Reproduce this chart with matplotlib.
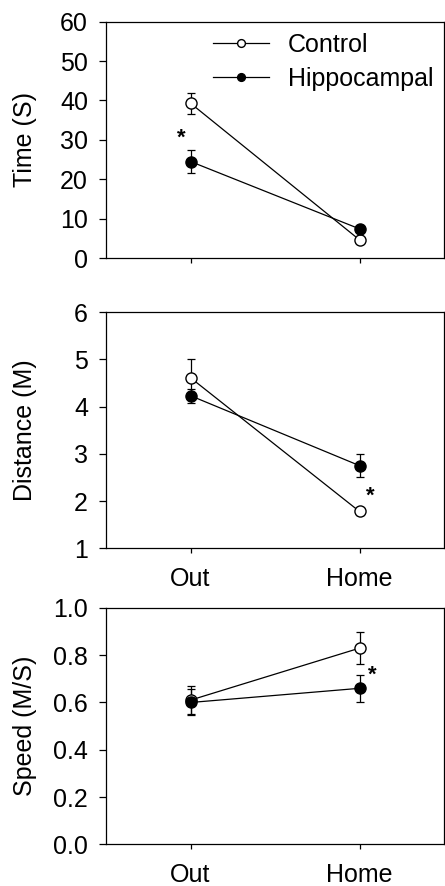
import matplotlib
matplotlib.use("Agg")
import matplotlib.pyplot as plt
from matplotlib.ticker import FormatStrFormatter

plt.rcParams["font.family"] = ["Liberation Sans", "DejaVu Sans"]

conditions = ["Out", "Home"]

time_control = [39.3, 4.6]
time_control_err = [2.7, 0.8]
time_hippo = [24.5, 7.4]
time_hippo_err = [2.8, 0.8]

dist_control = [4.61, 1.78]
dist_control_err = [0.39, 0.07]
dist_hippo = [4.23, 2.75]
dist_hippo_err = [0.15, 0.24]

speed_control = [0.61, 0.83]
speed_control_err = [0.06, 0.068]
speed_hippo = [0.60, 0.66]
speed_hippo_err = [0.055, 0.056]

# significance stars: (condition index, x nudge, y value)
star_time = (0, -0.053, 30.4)
star_dist = (1, 0.063, 2.1)
star_speed = (1, 0.074, 0.715)

FS = 18


def draw_panel(ax, control, control_err, hippo, hippo_err, ylabel, ylim, yticks, star, labels=True):
    x = list(range(len(conditions)))
    for y, err in [(control, control_err), (hippo, hippo_err)]:
        ax.errorbar(x, y, yerr=err, fmt="none", ecolor="black", elinewidth=0.9,
                    capsize=3, capthick=0.9, zorder=2)
    ax.plot(x, control, "-", color="black", lw=0.9, marker="o", ms=8,
            mfc="white", mec="black", mew=1.0, label="Control", zorder=3)
    ax.plot(x, hippo, "-", color="black", lw=0.9, marker="o", ms=8,
            mfc="black", mec="black", mew=1.0, label="Hippocampal", zorder=3)

    idx, dx, sy = star
    ax.text(x[idx] + dx, sy, "*", fontsize=16, fontweight="bold",
            ha="center", va="center")

    ax.set_xlim(-0.5, 1.5)
    ax.set_ylim(*ylim)
    ax.set_yticks(yticks)
    ax.set_xticks(x)
    ax.set_xticklabels(conditions if labels else ["", ""])
    ax.set_ylabel(ylabel, fontsize=FS)
    ax.yaxis.set_label_coords(-0.205, 0.5)
    ax.tick_params(axis="y", direction="out", length=5, width=0.9, pad=8, labelsize=FS)
    ax.tick_params(axis="x", direction="out", length=3.5, width=0.9, pad=10, labelsize=FS)
    for s in ax.spines.values():
        s.set_linewidth(0.9)


fig = plt.figure(figsize=(4.45, 8.86), dpi=100)
left, width, height = 0.2382, 0.7596, 0.2667
ax1 = fig.add_axes([left, 0.7088, width, height])
ax2 = fig.add_axes([left, 0.3811, width, height])
ax3 = fig.add_axes([left, 0.0471, width, height])

draw_panel(ax1, time_control, time_control_err, time_hippo, time_hippo_err,
           "Time (S)", (0, 60), range(0, 61, 10), star_time, labels=False)
draw_panel(ax2, dist_control, dist_control_err, dist_hippo, dist_hippo_err,
           "Distance (M)", (1, 6), range(1, 7), star_dist)
draw_panel(ax3, speed_control, speed_control_err, speed_hippo, speed_hippo_err,
           "Speed (M/S)", (0, 1.0), [0, 0.2, 0.4, 0.6, 0.8, 1.0], star_speed)
ax3.yaxis.set_major_formatter(FormatStrFormatter("%.1f"))

ax1.legend(loc="upper left", bbox_to_anchor=(0.316, 0.952), frameon=False,
           fontsize=FS, markerscale=0.7, handlelength=2.24, handletextpad=0.76,
           labelspacing=0.38, borderpad=0, borderaxespad=0)

fig.savefig("out.png", dpi=100)
